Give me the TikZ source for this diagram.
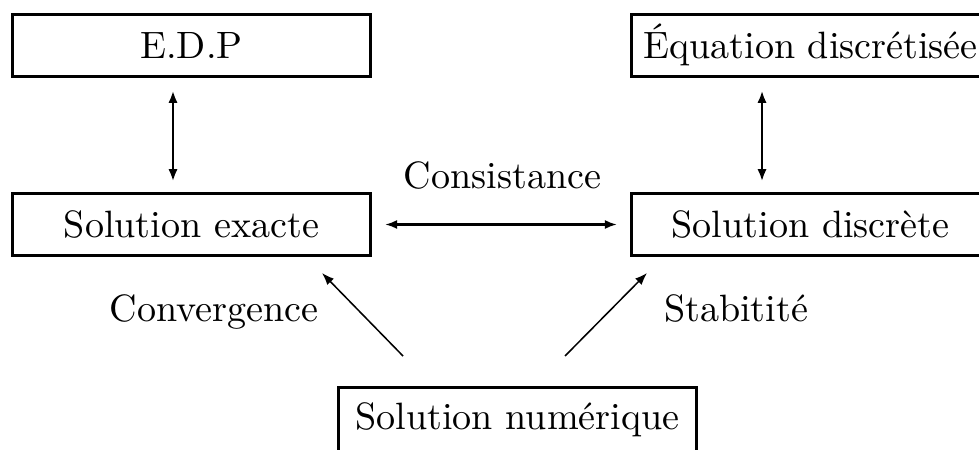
\documentclass[tikz,border=0pt]{standalone}
\usetikzlibrary{arrows.meta,calc}
\begin{document}
\begin{tikzpicture}[x=0.2625pt,y=-0.2625pt,
  boxnode/.style={draw,line width=0.8pt,minimum width=94pt,minimum height=16.3pt,
    text height=6.9pt,text depth=0pt,inner sep=0pt},
  lbl/.style={anchor=base,inner sep=0pt},
  tip/.style={{Latex[length=3.2pt,width=2.4pt]}-{Latex[length=3.2pt,width=2.4pt]}},
  vlink/.style={tip,line width=0.65pt},
  hlink/.style={tip,line width=0.6pt},
  dlink/.style={-{Latex[length=3.2pt,width=2.4pt]},line width=0.4pt}]
\useasboundingbox (0,0) rectangle (979,450);
\clip (0,0) rectangle (979,450);
\node[boxnode] (edp) at (191.5,45.5) {E.D.P};
\node[boxnode] (eqd) at (810.5,45.5) {Équation discrétisée};
\node[boxnode] (sex) at (191.5,224.5) {Solution exacte};
\node[boxnode] (sdi) at (810.5,224.5) {Solution discrète};
\node[boxnode,minimum height=17.5pt,text height=4.7pt] (snu) at (517.5,421) {Solution numérique};
\coordinate (a1) at (edp.south -| 173,0);
\coordinate (a2) at (sex.north -| 173,0);
\coordinate (b1) at (eqd.south -| 762,0);
\coordinate (b2) at (sdi.north -| 762,0);
\coordinate (c1) at (403,356);
\coordinate (c2) at (322,273);
\coordinate (d1) at (565,356);
\coordinate (d2) at (647,273);
\draw[vlink,shorten <=12.5pt*0.2625,shorten >=10.5pt*0.2625] (a1) -- (a2);
\draw[vlink,shorten <=12.5pt*0.2625,shorten >=10.5pt*0.2625] (b1) -- (b2);
\draw[hlink,shorten <=3.4pt,shorten >=3.4pt] (sex.east) -- (sdi.west);
\draw[dlink] (c1) -- (c2);
\draw[dlink] (d1) -- (d2);
\node[lbl] (cons) at (502.5,189) {Consistance};
\node[lbl] (conv) at (214,321.7) {Convergence};
\node[lbl] (stab) at (736,321.7) {Stabitité};
\end{tikzpicture}
\end{document}
